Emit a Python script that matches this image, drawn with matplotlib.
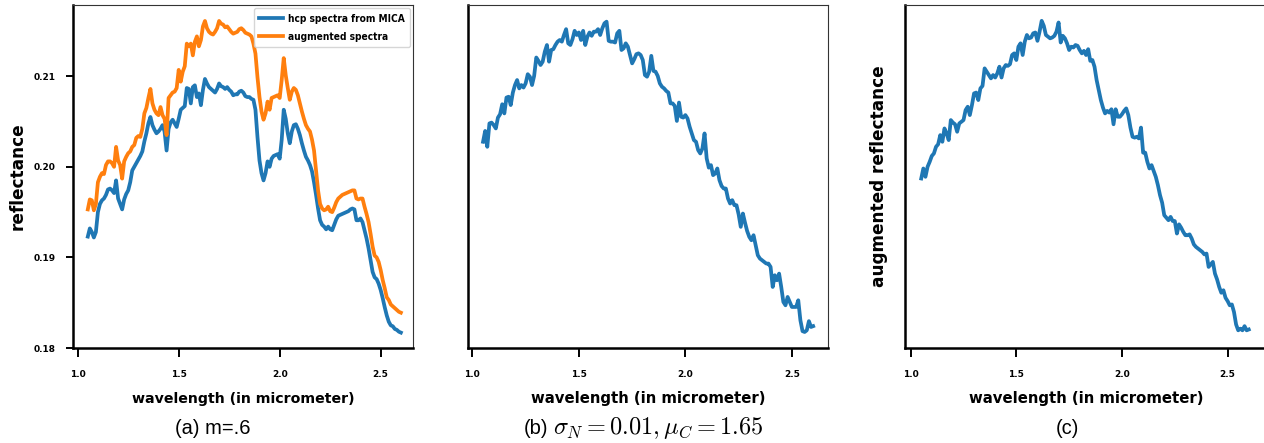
import matplotlib
matplotlib.use("Agg")
import matplotlib.pyplot as plt
from matplotlib.font_manager import FontProperties

plt.rcParams['mathtext.fontset'] = 'cm'

# ---------------- data ----------------
wavelength = [
    1.05, 1.06, 1.07, 1.08, 1.09, 1.10, 1.11, 1.12, 1.13, 1.14,
    1.15, 1.16, 1.17, 1.18, 1.19, 1.20, 1.21, 1.22, 1.23, 1.24,
    1.25, 1.26, 1.27, 1.28, 1.29, 1.30, 1.31, 1.32, 1.33, 1.34,
    1.35, 1.36, 1.37, 1.38, 1.39, 1.40, 1.41, 1.42, 1.43, 1.44,
    1.45, 1.46, 1.47, 1.48, 1.49, 1.50, 1.51, 1.52, 1.53, 1.54,
    1.55, 1.56, 1.57, 1.58, 1.59, 1.60, 1.61, 1.62, 1.63, 1.64,
    1.65, 1.66, 1.67, 1.68, 1.69, 1.70, 1.71, 1.72, 1.73, 1.74,
    1.75, 1.76, 1.77, 1.78, 1.79, 1.80, 1.81, 1.82, 1.83, 1.84,
    1.85, 1.86, 1.87, 1.88, 1.89, 1.90, 1.91, 1.92, 1.93, 1.94,
    1.95, 1.96, 1.97, 1.98, 1.99, 2.00, 2.01, 2.02, 2.03, 2.04,
    2.05, 2.06, 2.07, 2.08, 2.09, 2.10, 2.11, 2.12, 2.13, 2.14,
    2.15, 2.16, 2.17, 2.18, 2.19, 2.20, 2.21, 2.22, 2.23, 2.24,
    2.25, 2.26, 2.27, 2.28, 2.29, 2.30, 2.31, 2.32, 2.33, 2.34,
    2.35, 2.36, 2.37, 2.38, 2.39, 2.40, 2.41, 2.42, 2.43, 2.44,
    2.45, 2.46, 2.47, 2.48, 2.49, 2.50, 2.51, 2.52, 2.53, 2.54,
    2.55, 2.56, 2.57, 2.58, 2.59, 2.60,
]

hcp_mica = [
    0.1923, 0.1932, 0.1928, 0.1922, 0.1928, 0.1950, 0.1959, 0.1963, 0.1965, 0.1969,
    0.1975, 0.1976, 0.1974, 0.1971, 0.1985, 0.1965, 0.1959, 0.1953, 0.1964, 0.1970,
    0.1974, 0.1983, 0.1996, 0.2000, 0.2004, 0.2008, 0.2012, 0.2017, 0.2028, 0.2037,
    0.2048, 0.2055, 0.2046, 0.2041, 0.2037, 0.2039, 0.2042, 0.2046, 0.2039, 0.2018,
    0.2042, 0.2049, 0.2052, 0.2048, 0.2044, 0.2053, 0.2063, 0.2065, 0.2067, 0.2087,
    0.2086, 0.2070, 0.2088, 0.2090, 0.2077, 0.2081, 0.2068, 0.2085, 0.2097, 0.2092,
    0.2088, 0.2086, 0.2084, 0.2082, 0.2086, 0.2092, 0.2089, 0.2088, 0.2086, 0.2088,
    0.2085, 0.2083, 0.2079, 0.2080, 0.2080, 0.2083, 0.2084, 0.2082, 0.2078, 0.2077,
    0.2077, 0.2075, 0.2074, 0.2063, 0.2033, 0.2007, 0.1993, 0.1985, 0.1993, 0.2006,
    0.2000, 0.2009, 0.2012, 0.2013, 0.2014, 0.2009, 0.2030, 0.2063, 0.2053, 0.2037,
    0.2026, 0.2039, 0.2046, 0.2047, 0.2042, 0.2035, 0.2026, 0.2018, 0.2011, 0.2007,
    0.2002, 0.1995, 0.1983, 0.1969, 0.1954, 0.1941, 0.1936, 0.1934, 0.1931, 0.1934,
    0.1931, 0.1930, 0.1936, 0.1942, 0.1946, 0.1947, 0.1948, 0.1949, 0.1950, 0.1951,
    0.1953, 0.1954, 0.1953, 0.1941, 0.1941, 0.1943, 0.1939, 0.1930, 0.1921, 0.1910,
    0.1897, 0.1884, 0.1878, 0.1876, 0.1871, 0.1864, 0.1855, 0.1845, 0.1836, 0.1829,
    0.1825, 0.1824, 0.1821, 0.1820, 0.1818, 0.1817,
]

augmented_m06 = [
    0.1953, 0.1964, 0.1963, 0.1952, 0.1959, 0.1983, 0.1989, 0.1993, 0.1992, 0.2002,
    0.2006, 0.2006, 0.2004, 0.2000, 0.2022, 0.2007, 0.2002, 0.1987, 0.2006, 0.2011,
    0.2015, 0.2017, 0.2022, 0.2024, 0.2032, 0.2034, 0.2033, 0.2042, 0.2059, 0.2065,
    0.2076, 0.2086, 0.2070, 0.2063, 0.2059, 0.2057, 0.2066, 0.2057, 0.2053, 0.2035,
    0.2076, 0.2079, 0.2082, 0.2083, 0.2087, 0.2107, 0.2094, 0.2105, 0.2111, 0.2136,
    0.2133, 0.2136, 0.2123, 0.2138, 0.2144, 0.2133, 0.2140, 0.2155, 0.2161, 0.2153,
    0.2149, 0.2147, 0.2146, 0.2149, 0.2153, 0.2161, 0.2158, 0.2157, 0.2154, 0.2155,
    0.2152, 0.2149, 0.2147, 0.2148, 0.2149, 0.2152, 0.2153, 0.2151, 0.2148, 0.2147,
    0.2146, 0.2144, 0.2136, 0.2125, 0.2099, 0.2077, 0.2061, 0.2052, 0.2059, 0.2072,
    0.2063, 0.2076, 0.2077, 0.2078, 0.2079, 0.2076, 0.2096, 0.2120, 0.2101, 0.2087,
    0.2074, 0.2083, 0.2087, 0.2085, 0.2079, 0.2070, 0.2061, 0.2053, 0.2046, 0.2042,
    0.2039, 0.2030, 0.2018, 0.1996, 0.1974, 0.1959, 0.1954, 0.1952, 0.1953, 0.1956,
    0.1951, 0.1950, 0.1955, 0.1961, 0.1965, 0.1967, 0.1969, 0.1970, 0.1971, 0.1972,
    0.1973, 0.1974, 0.1974, 0.1965, 0.1964, 0.1965, 0.1965, 0.1956, 0.1948, 0.1939,
    0.1926, 0.1912, 0.1902, 0.1900, 0.1895, 0.1886, 0.1875, 0.1866, 0.1856, 0.1853,
    0.1848, 0.1846, 0.1844, 0.1842, 0.1840, 0.1839,
]

augmented_noise = [
    0.2070, 0.2083, 0.2064, 0.2092, 0.2093, 0.2090, 0.2086, 0.2099, 0.2103, 0.2115,
    0.2104, 0.2123, 0.2124, 0.2114, 0.2129, 0.2138, 0.2144, 0.2134, 0.2138, 0.2135,
    0.2140, 0.2151, 0.2148, 0.2138, 0.2149, 0.2171, 0.2167, 0.2162, 0.2166, 0.2178,
    0.2186, 0.2166, 0.2180, 0.2181, 0.2186, 0.2190, 0.2192, 0.2190, 0.2198, 0.2205,
    0.2188, 0.2186, 0.2193, 0.2203, 0.2198, 0.2201, 0.2192, 0.2203, 0.2186, 0.2196,
    0.2201, 0.2197, 0.2202, 0.2202, 0.2205, 0.2198, 0.2206, 0.2212, 0.2214, 0.2191,
    0.2190, 0.2190, 0.2189, 0.2200, 0.2203, 0.2180, 0.2182, 0.2188, 0.2184, 0.2174,
    0.2164, 0.2169, 0.2175, 0.2176, 0.2174, 0.2168, 0.2150, 0.2148, 0.2154, 0.2173,
    0.2155, 0.2154, 0.2149, 0.2140, 0.2136, 0.2134, 0.2131, 0.2129, 0.2116, 0.2116,
    0.2113, 0.2095, 0.2117, 0.2100, 0.2099, 0.2102, 0.2098, 0.2088, 0.2080, 0.2072,
    0.2070, 0.2060, 0.2056, 0.2062, 0.2080, 0.2050, 0.2039, 0.2042, 0.2030, 0.2032,
    0.2038, 0.2024, 0.2017, 0.2014, 0.2014, 0.2002, 0.1996, 0.2000, 0.1994, 0.1994,
    0.1983, 0.1968, 0.1984, 0.1973, 0.1963, 0.1956, 0.1952, 0.1958, 0.1946, 0.1934,
    0.1930, 0.1928, 0.1926, 0.1924, 0.1924, 0.1920, 0.1896, 0.1910, 0.1904, 0.1912,
    0.1896, 0.1878, 0.1874, 0.1884, 0.1878, 0.1872, 0.1872, 0.1872, 0.1880, 0.1856,
    0.1843, 0.1842, 0.1844, 0.1855, 0.1848, 0.1849,
]

augmented_c = [
    0.2026, 0.2038, 0.2028, 0.2040, 0.2046, 0.2053, 0.2056, 0.2064, 0.2067, 0.2078,
    0.2070, 0.2086, 0.2080, 0.2072, 0.2096, 0.2093, 0.2091, 0.2082, 0.2092, 0.2094,
    0.2096, 0.2108, 0.2112, 0.2102, 0.2114, 0.2128, 0.2129, 0.2120, 0.2134, 0.2137,
    0.2158, 0.2154, 0.2150, 0.2146, 0.2150, 0.2147, 0.2152, 0.2160, 0.2147, 0.2158,
    0.2162, 0.2161, 0.2163, 0.2174, 0.2176, 0.2168, 0.2184, 0.2188, 0.2174, 0.2190,
    0.2198, 0.2194, 0.2195, 0.2200, 0.2201, 0.2191, 0.2202, 0.2215, 0.2209, 0.2198,
    0.2196, 0.2194, 0.2195, 0.2197, 0.2202, 0.2213, 0.2189, 0.2197, 0.2194, 0.2188,
    0.2180, 0.2184, 0.2183, 0.2186, 0.2185, 0.2180, 0.2176, 0.2179, 0.2174, 0.2181,
    0.2167, 0.2168, 0.2160, 0.2144, 0.2132, 0.2120, 0.2111, 0.2104, 0.2107, 0.2105,
    0.2109, 0.2091, 0.2109, 0.2100, 0.2100, 0.2103, 0.2107, 0.2110, 0.2102, 0.2087,
    0.2076, 0.2075, 0.2076, 0.2074, 0.2087, 0.2057, 0.2057, 0.2046, 0.2038, 0.2042,
    0.2035, 0.2028, 0.2018, 0.2006, 0.1997, 0.1982, 0.1979, 0.1976, 0.1980, 0.1975,
    0.1975, 0.1960, 0.1971, 0.1967, 0.1962, 0.1958, 0.1958, 0.1959, 0.1954, 0.1947,
    0.1944, 0.1942, 0.1940, 0.1938, 0.1935, 0.1936, 0.1920, 0.1923, 0.1926, 0.1912,
    0.1905, 0.1896, 0.1889, 0.1892, 0.1883, 0.1879, 0.1874, 0.1875, 0.1866, 0.1851,
    0.1844, 0.1846, 0.1844, 0.1849, 0.1844, 0.1845,
]

x_ticks = [1.0, 1.5, 2.0, 2.5]
x_tick_labels = ["1.0", "1.5", "2.0", "2.5"]
y_ticks_a = [0.18, 0.19, 0.20, 0.21]
y_tick_labels_a = ["0.18", "0.19", "0.20", "0.21"]

legend_labels = ["hcp spectra from MICA", "augmented spectra"]
x_label = "wavelength (in micrometer)"

for s in (hcp_mica, augmented_m06, augmented_noise, augmented_c):
    assert len(s) == len(wavelength)

# ---------------- figure ----------------
W, H = 1264, 443
fig = plt.figure(figsize=(W / 100, H / 100), dpi=100)

def px_axes(left, right, top, bottom):
    return fig.add_axes([left / W, 1 - bottom / H, (right - left) / W, (bottom - top) / H])

BLUE = "#1f77b4"
ORANGE = "#ff7f0e"
LW = 2.7

ax_a = px_axes(73, 413, 5.3, 348)
ax_b = px_axes(467.7, 828.3, 5.3, 348)
ax_c = px_axes(905, 1268, 5.3, 348)

ax_a.plot(wavelength, hcp_mica, color=BLUE, lw=LW, label=legend_labels[0])
ax_a.plot(wavelength, augmented_m06, color=ORANGE, lw=LW, label=legend_labels[1])
ax_b.plot(wavelength, augmented_noise, color=BLUE, lw=LW)
ax_c.plot(wavelength, augmented_c, color=BLUE, lw=LW)

ax_a.set_xlim(0.9767, 2.660)
ax_a.set_ylim(0.18, 0.21783)
ax_b.set_xlim(0.978, 2.671)
ax_b.set_ylim(0.18228, 0.22336)
ax_c.set_xlim(0.9732, 2.691)
ax_c.set_ylim(0.18228, 0.22336)

for ax in (ax_a, ax_b, ax_c):
    ax.set_xticks(x_ticks)
    ax.set_xticklabels(x_tick_labels, fontsize=6.5, fontweight="bold")
    ax.tick_params(axis="x", length=6.5, width=1.4, pad=9.5)
    for side in ("left", "bottom"):
        ax.spines[side].set_linewidth(1.8)
        ax.spines[side].set_color("black")
    for side in ("top", "right"):
        ax.spines[side].set_linewidth(0.8)
        ax.spines[side].set_color("#333333")

ax_a.set_yticks(y_ticks_a)
ax_a.set_yticklabels(y_tick_labels_a, fontsize=6.5, fontweight="bold")
ax_a.tick_params(axis="y", length=5, width=1.4, pad=7.5)
ax_b.set_yticks([])
ax_c.set_yticks([])

xl_sizes = [10.2, 10.7, 10.7]
for ax, fs in zip((ax_a, ax_b, ax_c), xl_sizes):
    ax.set_xlabel(x_label, fontsize=fs, fontweight="bold")
    ax.xaxis.label.set_va("center")
    bb = ax.get_position()
    ax.xaxis.set_label_coords(0.5, -(399 - 348) / (bb.height * H))

ax_a.set_ylabel("reflectance", fontsize=12.2, fontweight="bold")
ax_a.yaxis.label.set_va("center")
ax_a.yaxis.set_label_coords((18 - 73) / 340, 0.5)

ax_c.set_ylabel("augmented reflectance", fontsize=12.2, fontweight="bold")
ax_c.yaxis.label.set_va("center")
ax_c.yaxis.set_label_coords((879 - 905) / (1268 - 905), 0.5)

leg_font = FontProperties(family="DejaVu Sans", weight="bold", stretch="condensed", size=7.3)
leg = ax_a.legend(loc="upper right", prop=leg_font,
                  borderaxespad=0.3, handlelength=2.3, handletextpad=0.5,
                  labelspacing=0.75, borderpad=0.55,
                  framealpha=0.8, edgecolor="#cccccc")

# captions (baseline aligned)
base_y = 1 - 434 / H
fig.text(213 / W, base_y, "(a) m=.6", ha="center", va="baseline",
         fontsize=14.5, family="Liberation Sans")
fig.text(548 / W, base_y, "(b)", ha="right", va="baseline",
         fontsize=14.5, family="Liberation Sans")
fig.text(553 / W, base_y, r"$\sigma_N = 0.01, \mu_C = 1.65$", ha="left", va="baseline",
         fontsize=17.5)
fig.text(1067.5 / W, base_y, "(c)", ha="center", va="baseline",
         fontsize=14.5, family="Liberation Sans")

fig.savefig("out.png", dpi=100)
